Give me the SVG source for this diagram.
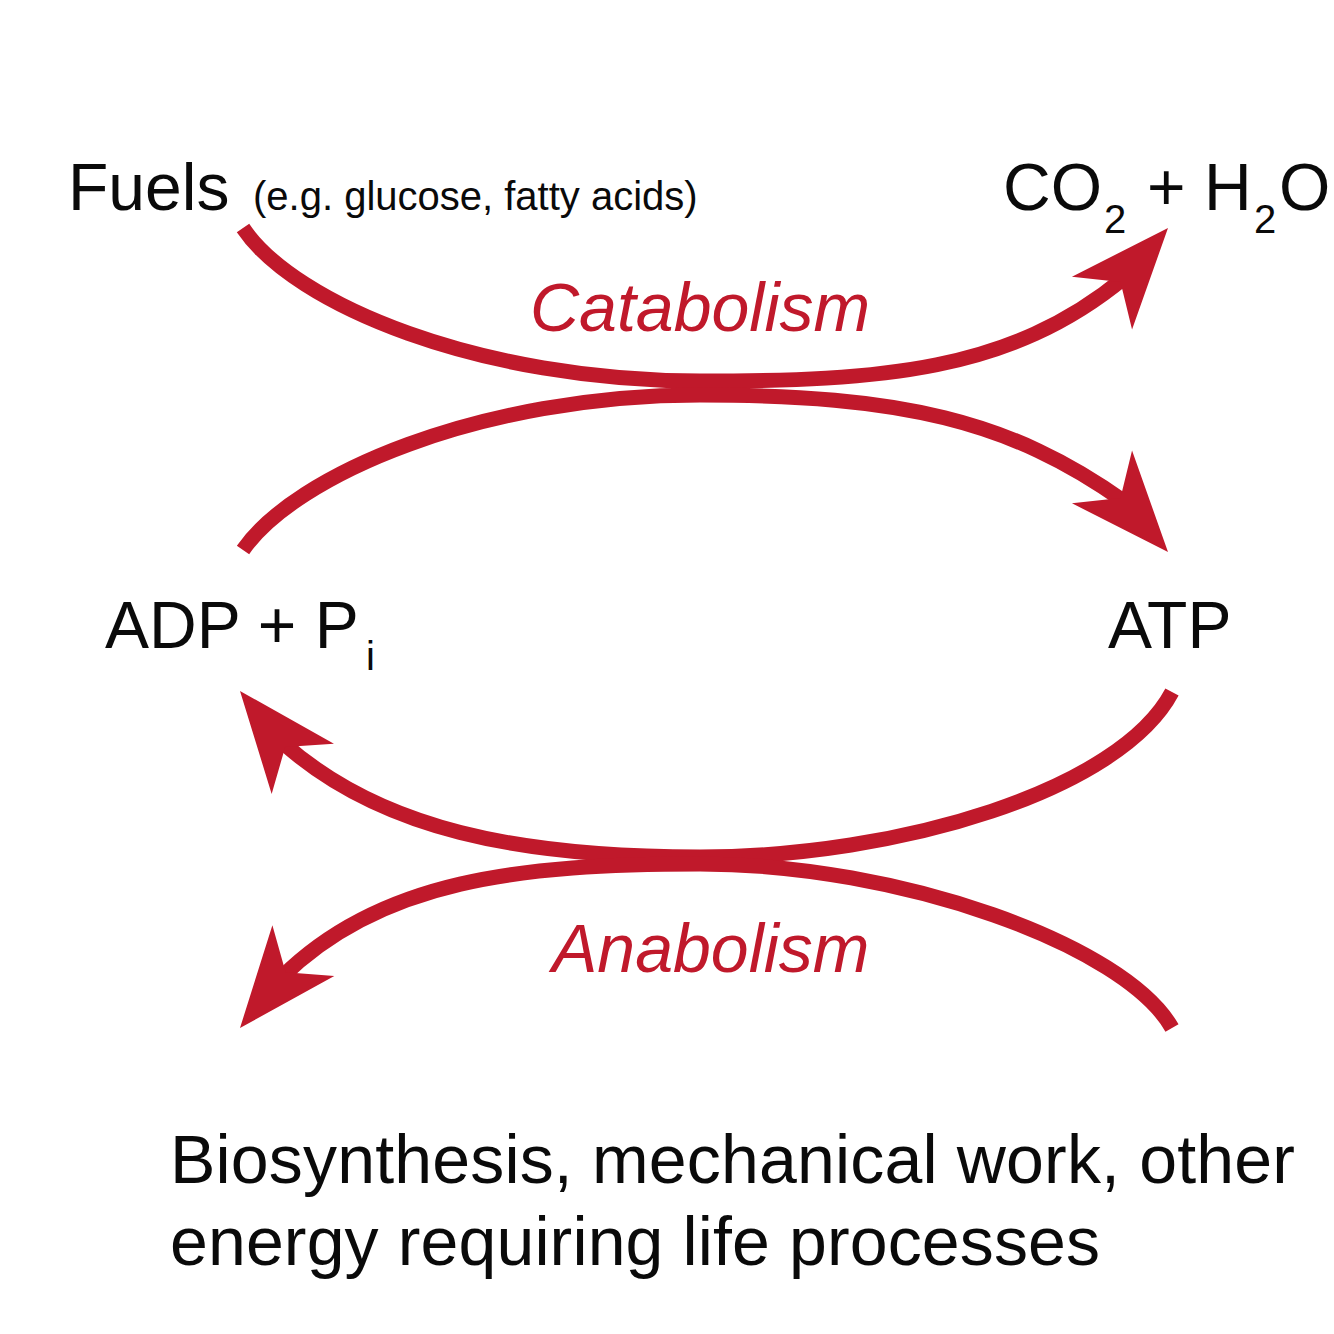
<svg xmlns="http://www.w3.org/2000/svg" xmlns:xlink="http://www.w3.org/1999/xlink" width="1334" height="1334" viewBox="0 0 1334 1334">
<style>
.t{font-family:"Liberation Sans",Arial,sans-serif;fill:#0a0a0a}
.big{font-size:66px}
.sub{font-size:40px}
.body{font-size:68px}
.red{font-family:"Liberation Sans",Arial,sans-serif;font-style:italic;fill:#c0192b;font-size:68px}
.flow{fill:none;stroke:#c0192b;stroke-width:15;stroke-linecap:butt}
.hd{fill:#c0192b}
</style>
<defs>
<path id="head" d="M0,0 L-100,-40 L-72,0 L-100,40 Z"/>
</defs>
<rect width="1334" height="1334" fill="#fff"/>
<g id="connectors">
<path class="flow" d="M243,228 C295,305 480,381 700,381 C880,381 1010,372 1124,278"/>
<path class="flow" d="M243,550 C295,475 480,395 700,395 C900,395 1010,420 1125,502"/>
<path class="flow" d="M1172,692 C1120,790 900,857 700,857 C520,857 380,830 282,742"/>
<path class="flow" d="M1172,1028 C1125,945 900,864 700,864 C520,864 380,880 282,977"/>
<use href="#head" class="hd" transform="translate(1168,228) rotate(-48.7)"/>
<use href="#head" class="hd" transform="translate(1168,552) rotate(48.7)"/>
<use href="#head" class="hd" transform="translate(240,691) rotate(-128.9)"/>
<use href="#head" class="hd" transform="translate(240,1028) rotate(129.3)"/>
</g>
<g id="fuels">
<text class="t big" x="68" y="210">Fuels</text>
<text class="t" x="253" y="210" font-size="40">(e.g. glucose, fatty acids)</text>
</g>
<g id="co2-h2o">
<text class="t big" x="1003" y="210">CO</text>
<text class="t sub" x="1104" y="233">2</text>
<text class="t big" x="1147" y="210">+</text>
<text class="t big" x="1204" y="210">H</text>
<text class="t sub" x="1254" y="233">2</text>
<text class="t big" x="1279" y="210">O</text>
</g>
<g id="catabolism">
<text class="red" x="530" y="331">Catabolism</text>
</g>
<g id="adp">
<text class="t big" x="105" y="648">ADP + P</text>
<text class="t sub" x="366" y="670">i</text>
</g>
<g id="atp">
<text class="t big" x="1108" y="648">ATP</text>
</g>
<g id="anabolism">
<text class="red" x="552" y="972">Anabolism</text>
</g>
<g id="processes">
<text class="t body" x="170" y="1183" textLength="1125">Biosynthesis, mechanical work, other</text>
<text class="t body" x="170" y="1265" textLength="930">energy requiring life processes</text>
</g>
</svg>
